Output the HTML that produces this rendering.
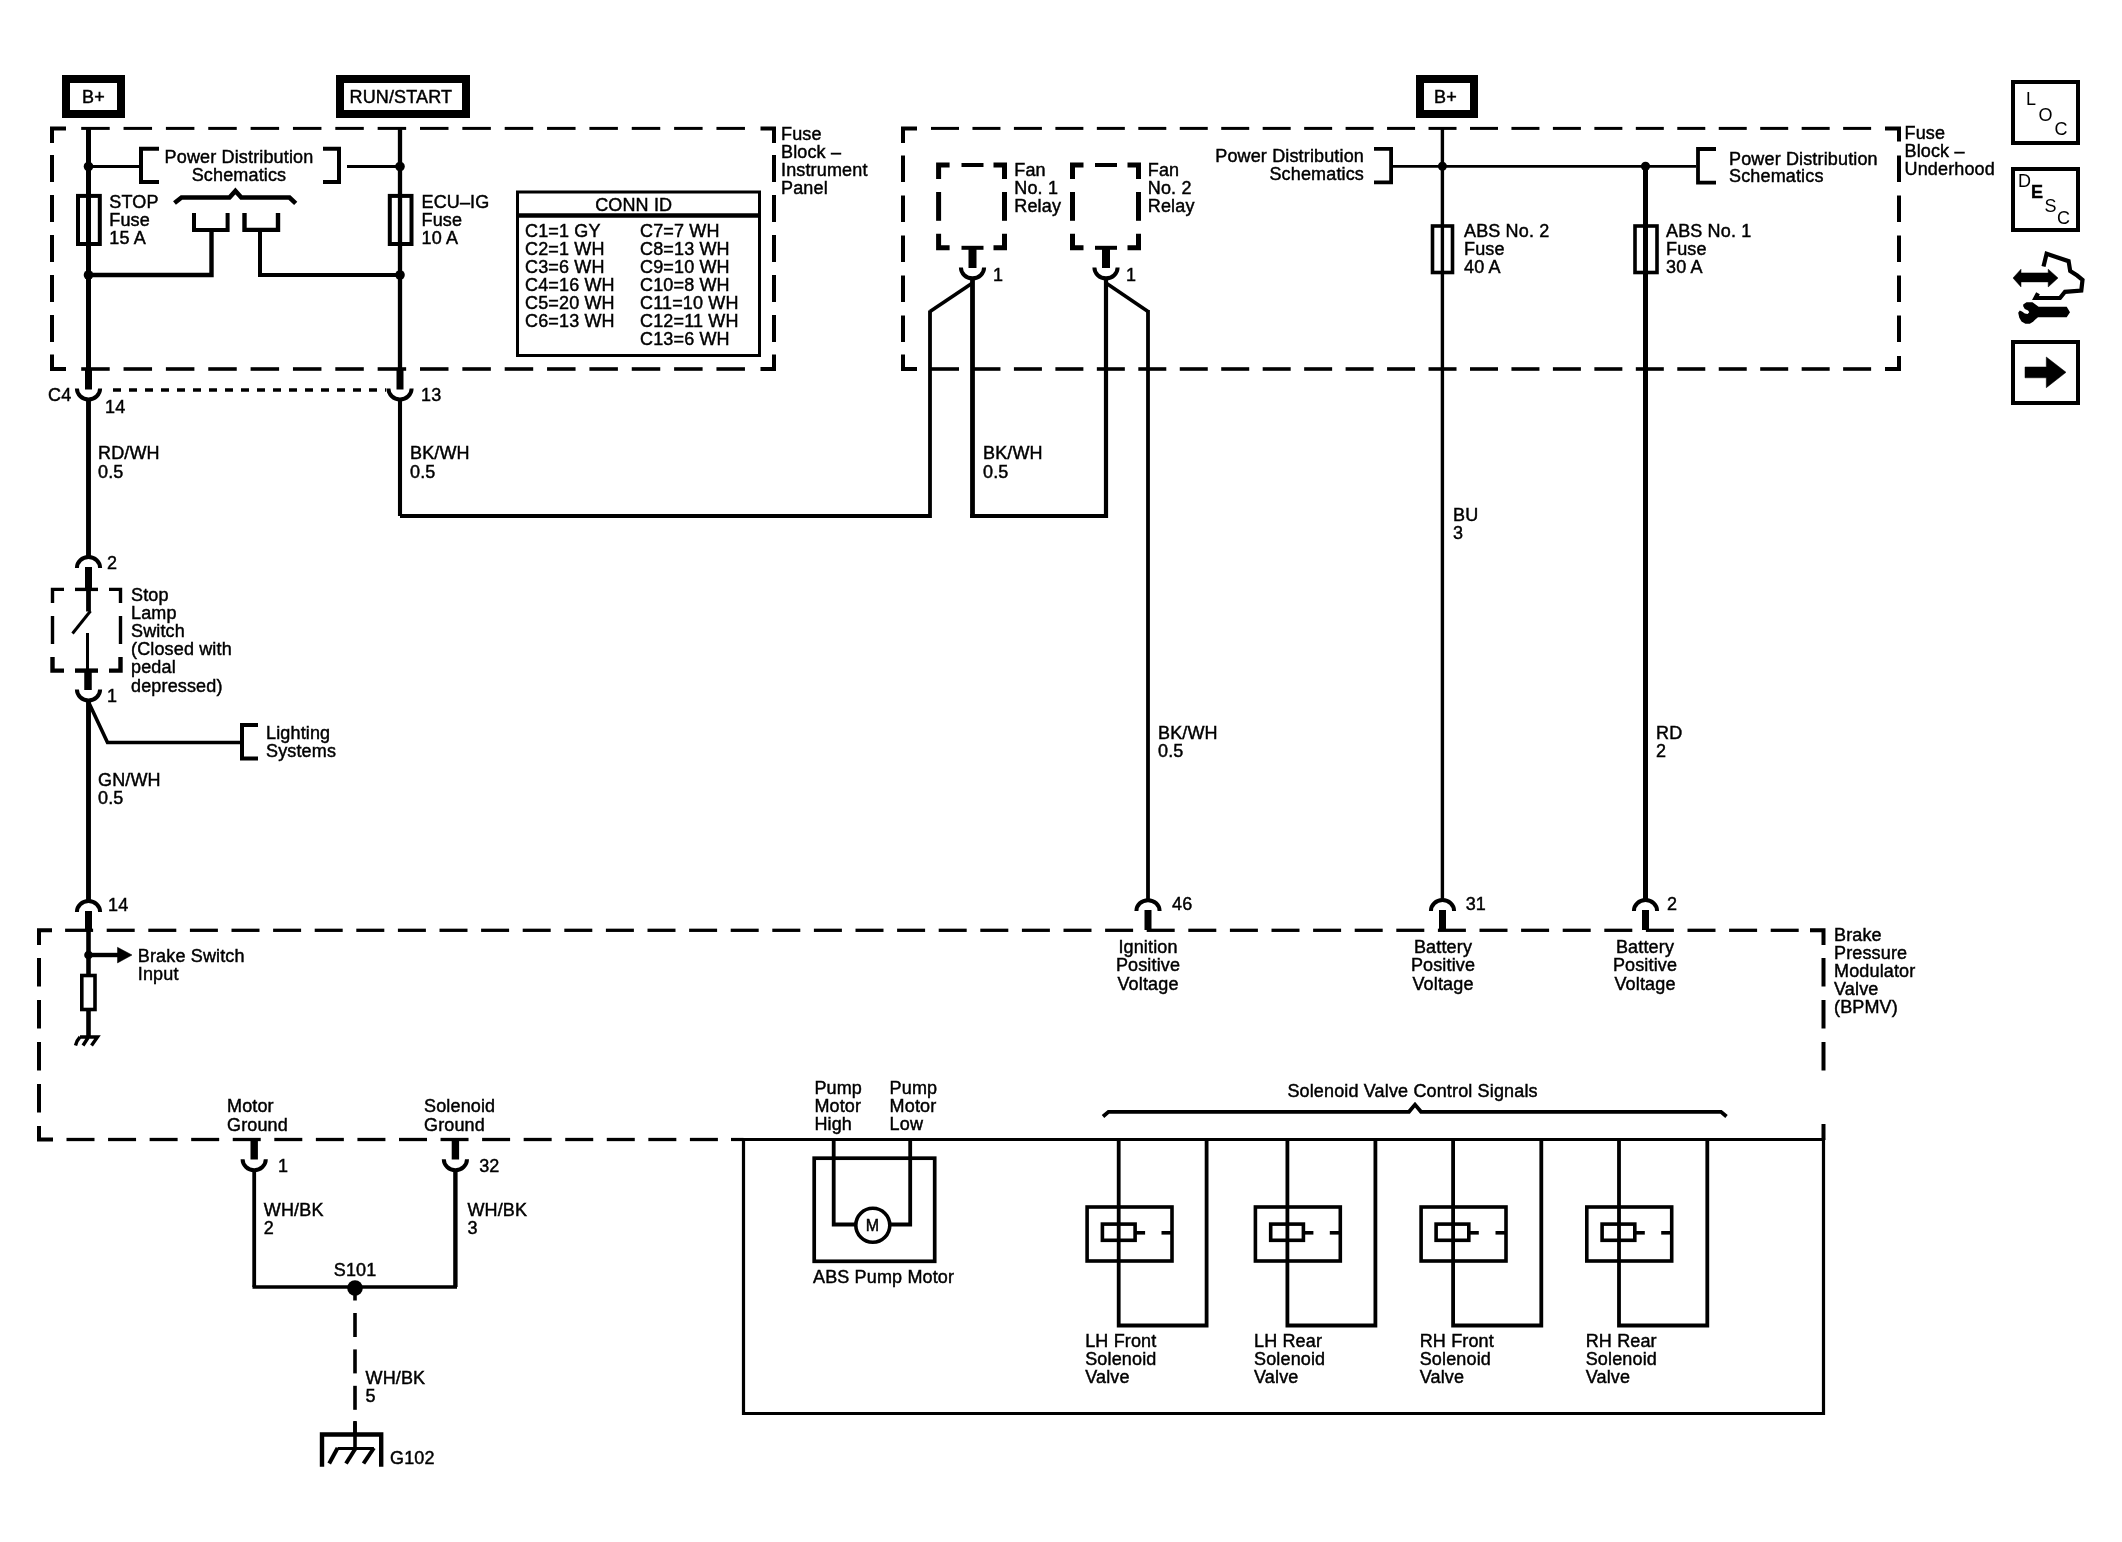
<!DOCTYPE html>
<html><head><meta charset="utf-8"><style>
html,body{margin:0;padding:0;background:#fff;width:2122px;height:1542px;overflow:hidden}
svg{display:block;will-change:transform}
text{font-family:"Liberation Sans",sans-serif}
</style></head><body>
<svg width="2122" height="1542" viewBox="0 0 2122 1542" stroke="#000" fill="#000" font-family="Liberation Sans, sans-serif">
<rect x="0" y="0" width="2122" height="1542" fill="#fff" stroke="none"/>
<g stroke="none">
</g>
<rect x="66" y="79" width="55" height="35" stroke-width="8" fill="none"/>
<rect x="340" y="79" width="126" height="35" stroke-width="8" fill="none"/>
<path d="M52,142.9 V128.4 H66" stroke-width="4" fill="none" stroke-linejoin="miter" stroke-linecap="butt"/>
<path d="M760.5,128.4 H774 V142.9" stroke-width="4" fill="none" stroke-linejoin="miter" stroke-linecap="butt"/>
<line x1="81.2" y1="128.4" x2="109.7" y2="128.4" stroke-width="3.0" stroke-linecap="butt"/>
<line x1="123.55" y1="128.4" x2="152.05" y2="128.4" stroke-width="3.0" stroke-linecap="butt"/>
<line x1="165.9" y1="128.4" x2="194.4" y2="128.4" stroke-width="3.0" stroke-linecap="butt"/>
<line x1="208.25" y1="128.4" x2="236.75" y2="128.4" stroke-width="3.0" stroke-linecap="butt"/>
<line x1="250.6" y1="128.4" x2="279.1" y2="128.4" stroke-width="3.0" stroke-linecap="butt"/>
<line x1="292.95" y1="128.4" x2="321.45" y2="128.4" stroke-width="3.0" stroke-linecap="butt"/>
<line x1="335.3" y1="128.4" x2="363.8" y2="128.4" stroke-width="3.0" stroke-linecap="butt"/>
<line x1="377.65" y1="128.4" x2="406.15" y2="128.4" stroke-width="3.0" stroke-linecap="butt"/>
<line x1="420.0" y1="128.4" x2="448.5" y2="128.4" stroke-width="3.0" stroke-linecap="butt"/>
<line x1="462.35" y1="128.4" x2="490.85" y2="128.4" stroke-width="3.0" stroke-linecap="butt"/>
<line x1="504.7" y1="128.4" x2="533.2" y2="128.4" stroke-width="3.0" stroke-linecap="butt"/>
<line x1="547.05" y1="128.4" x2="575.55" y2="128.4" stroke-width="3.0" stroke-linecap="butt"/>
<line x1="589.4" y1="128.4" x2="617.9" y2="128.4" stroke-width="3.0" stroke-linecap="butt"/>
<line x1="631.75" y1="128.4" x2="660.25" y2="128.4" stroke-width="3.0" stroke-linecap="butt"/>
<line x1="674.1" y1="128.4" x2="702.6" y2="128.4" stroke-width="3.0" stroke-linecap="butt"/>
<line x1="716.45" y1="128.4" x2="744.95" y2="128.4" stroke-width="3.0" stroke-linecap="butt"/>
<path d="M52,354.5 V369 H66" stroke-width="4" fill="none" stroke-linejoin="miter" stroke-linecap="butt"/>
<path d="M760.5,369 H774 V354.5" stroke-width="4" fill="none" stroke-linejoin="miter" stroke-linecap="butt"/>
<line x1="81.2" y1="369" x2="109.7" y2="369" stroke-width="3.6" stroke-linecap="butt"/>
<line x1="123.55" y1="369" x2="152.05" y2="369" stroke-width="3.6" stroke-linecap="butt"/>
<line x1="165.9" y1="369" x2="194.4" y2="369" stroke-width="3.6" stroke-linecap="butt"/>
<line x1="208.25" y1="369" x2="236.75" y2="369" stroke-width="3.6" stroke-linecap="butt"/>
<line x1="250.6" y1="369" x2="279.1" y2="369" stroke-width="3.6" stroke-linecap="butt"/>
<line x1="292.95" y1="369" x2="321.45" y2="369" stroke-width="3.6" stroke-linecap="butt"/>
<line x1="335.3" y1="369" x2="363.8" y2="369" stroke-width="3.6" stroke-linecap="butt"/>
<line x1="377.65" y1="369" x2="406.15" y2="369" stroke-width="3.6" stroke-linecap="butt"/>
<line x1="420.0" y1="369" x2="448.5" y2="369" stroke-width="3.6" stroke-linecap="butt"/>
<line x1="462.35" y1="369" x2="490.85" y2="369" stroke-width="3.6" stroke-linecap="butt"/>
<line x1="504.7" y1="369" x2="533.2" y2="369" stroke-width="3.6" stroke-linecap="butt"/>
<line x1="547.05" y1="369" x2="575.55" y2="369" stroke-width="3.6" stroke-linecap="butt"/>
<line x1="589.4" y1="369" x2="617.9" y2="369" stroke-width="3.6" stroke-linecap="butt"/>
<line x1="631.75" y1="369" x2="660.25" y2="369" stroke-width="3.6" stroke-linecap="butt"/>
<line x1="674.1" y1="369" x2="702.6" y2="369" stroke-width="3.6" stroke-linecap="butt"/>
<line x1="716.45" y1="369" x2="744.95" y2="369" stroke-width="3.6" stroke-linecap="butt"/>
<line x1="52" y1="155" x2="52" y2="182" stroke-width="4" stroke-linecap="butt"/>
<line x1="52" y1="195" x2="52" y2="222" stroke-width="4" stroke-linecap="butt"/>
<line x1="52" y1="235" x2="52" y2="262" stroke-width="4" stroke-linecap="butt"/>
<line x1="52" y1="275" x2="52" y2="302" stroke-width="4" stroke-linecap="butt"/>
<line x1="52" y1="315" x2="52" y2="342" stroke-width="4" stroke-linecap="butt"/>
<line x1="774" y1="155" x2="774" y2="182" stroke-width="4" stroke-linecap="butt"/>
<line x1="774" y1="195" x2="774" y2="222" stroke-width="4" stroke-linecap="butt"/>
<line x1="774" y1="235" x2="774" y2="262" stroke-width="4" stroke-linecap="butt"/>
<line x1="774" y1="275" x2="774" y2="302" stroke-width="4" stroke-linecap="butt"/>
<line x1="774" y1="315" x2="774" y2="342" stroke-width="4" stroke-linecap="butt"/>
<line x1="88.5" y1="128" x2="88.5" y2="370" stroke-width="5" stroke-linecap="butt"/>
<line x1="400" y1="128" x2="400" y2="370" stroke-width="4.3" stroke-linecap="butt"/>
<circle cx="88.5" cy="166.5" r="4.8" stroke="none" fill="#000"/>
<circle cx="400" cy="166.5" r="4.8" stroke="none" fill="#000"/>
<circle cx="88.5" cy="275" r="4.8" stroke="none" fill="#000"/>
<circle cx="400" cy="275" r="4.8" stroke="none" fill="#000"/>
<line x1="88.5" y1="166.5" x2="141" y2="166.5" stroke-width="3.2" stroke-linecap="butt"/>
<path d="M159,148.8 H141 V182 H159" stroke-width="4" fill="none" stroke-linejoin="miter" stroke-linecap="butt"/>
<path d="M323,148.8 H339 V182 H323" stroke-width="4" fill="none" stroke-linejoin="miter" stroke-linecap="butt"/>
<line x1="347" y1="166.5" x2="400" y2="166.5" stroke-width="3.2" stroke-linecap="butt"/>
<rect x="78" y="195.9" width="21.799999999999997" height="48.099999999999994" stroke-width="4" fill="none"/>
<rect x="389.8" y="195.9" width="21.69999999999999" height="48.099999999999994" stroke-width="4" fill="none"/>
<path d="M174.5,203 L181.5,197.5 H229.5 L235.4,191 L241.3,197.5 H289.5 L295.7,203.4" stroke-width="4.6" fill="none" stroke-linejoin="miter" stroke-linecap="butt"/>
<path d="M194,213 V229.9 H227.6 V213" stroke-width="4" fill="none" stroke-linejoin="miter" stroke-linecap="butt"/>
<path d="M244.5,213 V229.9 H278 V213" stroke-width="4.4" fill="none" stroke-linejoin="miter" stroke-linecap="butt"/>
<path d="M211.5,229 V275 H88.5" stroke-width="4.4" fill="none" stroke-linejoin="miter" stroke-linecap="butt"/>
<path d="M260,229 V275 H400" stroke-width="4" fill="none" stroke-linejoin="miter" stroke-linecap="butt"/>
<rect x="517.5" y="192" width="242.0" height="163.5" stroke-width="3" fill="none"/>
<line x1="517.5" y1="215.5" x2="759.5" y2="215.5" stroke-width="4.4" stroke-linecap="butt"/>
<line x1="88.5" y1="369" x2="88.5" y2="389.5" stroke-width="7" stroke-linecap="butt"/>
<path d="M76.9,388.5 A11.6,10.9 0 0 0 100.1,388.5" stroke-width="4" fill="none" stroke-linejoin="miter" stroke-linecap="butt"/>
<line x1="400" y1="369" x2="400" y2="389.5" stroke-width="7" stroke-linecap="butt"/>
<path d="M388.4,388.5 A11.6,10.9 0 0 0 411.6,388.5" stroke-width="4" fill="none" stroke-linejoin="miter" stroke-linecap="butt"/>
<line x1="113" y1="390" x2="386" y2="390" stroke-width="3.5" stroke-dasharray="8 8"/>
<line x1="88.5" y1="399" x2="88.5" y2="557" stroke-width="4.9" stroke-linecap="butt"/>
<line x1="400" y1="399" x2="400" y2="516" stroke-width="4.1" stroke-linecap="butt"/>
<path d="M400,516 H930 V310.5" stroke-width="3.8" fill="none" stroke-linejoin="miter" stroke-linecap="butt"/>
<line x1="930" y1="311.5" x2="972.5" y2="283" stroke-width="3.6" stroke-linecap="butt"/>
<line x1="972.5" y1="279" x2="972.5" y2="518" stroke-width="4.8" stroke-linecap="butt"/>
<line x1="970.1" y1="516" x2="1108" y2="516" stroke-width="3.8" stroke-linecap="butt"/>
<line x1="1106" y1="279" x2="1106" y2="518" stroke-width="4.2" stroke-linecap="butt"/>
<line x1="1106" y1="283" x2="1148" y2="311.5" stroke-width="3.6" stroke-linecap="butt"/>
<line x1="1148" y1="310" x2="1148" y2="900" stroke-width="3.8" stroke-linecap="butt"/>
<path d="M903,142.9 V128.4 H917" stroke-width="4" fill="none" stroke-linejoin="miter" stroke-linecap="butt"/>
<path d="M1885,128.4 H1899 V141.4" stroke-width="4" fill="none" stroke-linejoin="miter" stroke-linecap="butt"/>
<line x1="931" y1="128.4" x2="959" y2="128.4" stroke-width="3.0" stroke-linecap="butt"/>
<line x1="972.46" y1="128.4" x2="1000.46" y2="128.4" stroke-width="3.0" stroke-linecap="butt"/>
<line x1="1013.92" y1="128.4" x2="1041.92" y2="128.4" stroke-width="3.0" stroke-linecap="butt"/>
<line x1="1055.38" y1="128.4" x2="1083.38" y2="128.4" stroke-width="3.0" stroke-linecap="butt"/>
<line x1="1096.84" y1="128.4" x2="1124.84" y2="128.4" stroke-width="3.0" stroke-linecap="butt"/>
<line x1="1138.3" y1="128.4" x2="1166.3" y2="128.4" stroke-width="3.0" stroke-linecap="butt"/>
<line x1="1179.76" y1="128.4" x2="1207.76" y2="128.4" stroke-width="3.0" stroke-linecap="butt"/>
<line x1="1221.22" y1="128.4" x2="1249.22" y2="128.4" stroke-width="3.0" stroke-linecap="butt"/>
<line x1="1262.68" y1="128.4" x2="1290.68" y2="128.4" stroke-width="3.0" stroke-linecap="butt"/>
<line x1="1304.14" y1="128.4" x2="1332.14" y2="128.4" stroke-width="3.0" stroke-linecap="butt"/>
<line x1="1345.6" y1="128.4" x2="1373.6" y2="128.4" stroke-width="3.0" stroke-linecap="butt"/>
<line x1="1387.06" y1="128.4" x2="1415.06" y2="128.4" stroke-width="3.0" stroke-linecap="butt"/>
<line x1="1428.52" y1="128.4" x2="1456.52" y2="128.4" stroke-width="3.0" stroke-linecap="butt"/>
<line x1="1469.98" y1="128.4" x2="1497.98" y2="128.4" stroke-width="3.0" stroke-linecap="butt"/>
<line x1="1511.44" y1="128.4" x2="1539.44" y2="128.4" stroke-width="3.0" stroke-linecap="butt"/>
<line x1="1552.9" y1="128.4" x2="1580.9" y2="128.4" stroke-width="3.0" stroke-linecap="butt"/>
<line x1="1594.36" y1="128.4" x2="1622.36" y2="128.4" stroke-width="3.0" stroke-linecap="butt"/>
<line x1="1635.82" y1="128.4" x2="1663.82" y2="128.4" stroke-width="3.0" stroke-linecap="butt"/>
<line x1="1677.28" y1="128.4" x2="1705.28" y2="128.4" stroke-width="3.0" stroke-linecap="butt"/>
<line x1="1718.74" y1="128.4" x2="1746.74" y2="128.4" stroke-width="3.0" stroke-linecap="butt"/>
<line x1="1760.2" y1="128.4" x2="1788.2" y2="128.4" stroke-width="3.0" stroke-linecap="butt"/>
<line x1="1801.66" y1="128.4" x2="1829.66" y2="128.4" stroke-width="3.0" stroke-linecap="butt"/>
<line x1="1843.12" y1="128.4" x2="1871.12" y2="128.4" stroke-width="3.0" stroke-linecap="butt"/>
<path d="M903,354.5 V369 H917" stroke-width="4" fill="none" stroke-linejoin="miter" stroke-linecap="butt"/>
<path d="M1885,369 H1899 V356" stroke-width="4" fill="none" stroke-linejoin="miter" stroke-linecap="butt"/>
<line x1="931" y1="369" x2="959" y2="369" stroke-width="3.6" stroke-linecap="butt"/>
<line x1="972.46" y1="369" x2="1000.46" y2="369" stroke-width="3.6" stroke-linecap="butt"/>
<line x1="1013.92" y1="369" x2="1041.92" y2="369" stroke-width="3.6" stroke-linecap="butt"/>
<line x1="1055.38" y1="369" x2="1083.38" y2="369" stroke-width="3.6" stroke-linecap="butt"/>
<line x1="1096.84" y1="369" x2="1124.84" y2="369" stroke-width="3.6" stroke-linecap="butt"/>
<line x1="1138.3" y1="369" x2="1166.3" y2="369" stroke-width="3.6" stroke-linecap="butt"/>
<line x1="1179.76" y1="369" x2="1207.76" y2="369" stroke-width="3.6" stroke-linecap="butt"/>
<line x1="1221.22" y1="369" x2="1249.22" y2="369" stroke-width="3.6" stroke-linecap="butt"/>
<line x1="1262.68" y1="369" x2="1290.68" y2="369" stroke-width="3.6" stroke-linecap="butt"/>
<line x1="1304.14" y1="369" x2="1332.14" y2="369" stroke-width="3.6" stroke-linecap="butt"/>
<line x1="1345.6" y1="369" x2="1373.6" y2="369" stroke-width="3.6" stroke-linecap="butt"/>
<line x1="1387.06" y1="369" x2="1415.06" y2="369" stroke-width="3.6" stroke-linecap="butt"/>
<line x1="1428.52" y1="369" x2="1456.52" y2="369" stroke-width="3.6" stroke-linecap="butt"/>
<line x1="1469.98" y1="369" x2="1497.98" y2="369" stroke-width="3.6" stroke-linecap="butt"/>
<line x1="1511.44" y1="369" x2="1539.44" y2="369" stroke-width="3.6" stroke-linecap="butt"/>
<line x1="1552.9" y1="369" x2="1580.9" y2="369" stroke-width="3.6" stroke-linecap="butt"/>
<line x1="1594.36" y1="369" x2="1622.36" y2="369" stroke-width="3.6" stroke-linecap="butt"/>
<line x1="1635.82" y1="369" x2="1663.82" y2="369" stroke-width="3.6" stroke-linecap="butt"/>
<line x1="1677.28" y1="369" x2="1705.28" y2="369" stroke-width="3.6" stroke-linecap="butt"/>
<line x1="1718.74" y1="369" x2="1746.74" y2="369" stroke-width="3.6" stroke-linecap="butt"/>
<line x1="1760.2" y1="369" x2="1788.2" y2="369" stroke-width="3.6" stroke-linecap="butt"/>
<line x1="1801.66" y1="369" x2="1829.66" y2="369" stroke-width="3.6" stroke-linecap="butt"/>
<line x1="1843.12" y1="369" x2="1871.12" y2="369" stroke-width="3.6" stroke-linecap="butt"/>
<line x1="903" y1="155.5" x2="903" y2="182.0" stroke-width="4" stroke-linecap="butt"/>
<line x1="903" y1="195.5" x2="903" y2="222.0" stroke-width="4" stroke-linecap="butt"/>
<line x1="903" y1="235.5" x2="903" y2="262.0" stroke-width="4" stroke-linecap="butt"/>
<line x1="903" y1="275.5" x2="903" y2="302.0" stroke-width="4" stroke-linecap="butt"/>
<line x1="903" y1="315.5" x2="903" y2="342.0" stroke-width="4" stroke-linecap="butt"/>
<line x1="1899" y1="155.5" x2="1899" y2="182.0" stroke-width="4" stroke-linecap="butt"/>
<line x1="1899" y1="195.5" x2="1899" y2="222.0" stroke-width="4" stroke-linecap="butt"/>
<line x1="1899" y1="235.5" x2="1899" y2="262.0" stroke-width="4" stroke-linecap="butt"/>
<line x1="1899" y1="275.5" x2="1899" y2="302.0" stroke-width="4" stroke-linecap="butt"/>
<line x1="1899" y1="315.5" x2="1899" y2="342.0" stroke-width="4" stroke-linecap="butt"/>
<path d="M938.6,179 V165 H949.6" stroke-width="5" fill="none" stroke-linejoin="miter" stroke-linecap="butt"/>
<path d="M993.5,165 H1004.5 V179" stroke-width="5" fill="none" stroke-linejoin="miter" stroke-linecap="butt"/>
<path d="M938.6,233.8 V247.8 H949.6" stroke-width="5" fill="none" stroke-linejoin="miter" stroke-linecap="butt"/>
<path d="M993.5,247.8 H1004.5 V233.8" stroke-width="5" fill="none" stroke-linejoin="miter" stroke-linecap="butt"/>
<line x1="961.5" y1="165" x2="983.5" y2="165" stroke-width="4" stroke-linecap="butt"/>
<line x1="961.5" y1="247.8" x2="983.5" y2="247.8" stroke-width="4" stroke-linecap="butt"/>
<line x1="938.6" y1="192" x2="938.6" y2="220.8" stroke-width="5" stroke-linecap="butt"/>
<line x1="1004.5" y1="192" x2="1004.5" y2="220.8" stroke-width="5" stroke-linecap="butt"/>
<line x1="972.5" y1="247.8" x2="972.5" y2="268" stroke-width="8" stroke-linecap="butt"/>
<path d="M960.9,267.5 A11.6,10.9 0 0 0 984.1,267.5" stroke-width="4" fill="none" stroke-linejoin="miter" stroke-linecap="butt"/>
<path d="M1072.5,179 V165 H1083.5" stroke-width="5" fill="none" stroke-linejoin="miter" stroke-linecap="butt"/>
<path d="M1127.5,165 H1138.5 V179" stroke-width="5" fill="none" stroke-linejoin="miter" stroke-linecap="butt"/>
<path d="M1072.5,233.8 V247.8 H1083.5" stroke-width="5" fill="none" stroke-linejoin="miter" stroke-linecap="butt"/>
<path d="M1127.5,247.8 H1138.5 V233.8" stroke-width="5" fill="none" stroke-linejoin="miter" stroke-linecap="butt"/>
<line x1="1095" y1="165" x2="1117" y2="165" stroke-width="4" stroke-linecap="butt"/>
<line x1="1095" y1="247.8" x2="1117" y2="247.8" stroke-width="4" stroke-linecap="butt"/>
<line x1="1072.5" y1="192" x2="1072.5" y2="220.8" stroke-width="5" stroke-linecap="butt"/>
<line x1="1138.5" y1="192" x2="1138.5" y2="220.8" stroke-width="5" stroke-linecap="butt"/>
<line x1="1106" y1="247.8" x2="1106" y2="268" stroke-width="8" stroke-linecap="butt"/>
<path d="M1094.4,267.5 A11.6,10.9 0 0 0 1117.6,267.5" stroke-width="4" fill="none" stroke-linejoin="miter" stroke-linecap="butt"/>
<rect x="1420" y="79" width="54" height="35" stroke-width="8" fill="none"/>
<line x1="1442.4" y1="128" x2="1442.4" y2="900" stroke-width="3.4" stroke-linecap="butt"/>
<line x1="1392" y1="166.4" x2="1696" y2="166.4" stroke-width="2.9" stroke-linecap="butt"/>
<circle cx="1442.4" cy="166.3" r="4.5" stroke="none" fill="#000"/>
<circle cx="1645.5" cy="166.3" r="4.6" stroke="none" fill="#000"/>
<line x1="1645.5" y1="166" x2="1645.5" y2="900" stroke-width="5" stroke-linecap="butt"/>
<path d="M1374,148.9 H1391.1 V182.4 H1374" stroke-width="3.8" fill="none" stroke-linejoin="miter" stroke-linecap="butt"/>
<path d="M1716,149 H1698 V182.6 H1716" stroke-width="3.8" fill="none" stroke-linejoin="miter" stroke-linecap="butt"/>
<rect x="1432.5" y="226" width="20.0" height="46.5" stroke-width="3.6" fill="none"/>
<rect x="1635" y="226" width="22" height="46.5" stroke-width="3.6" fill="none"/>
<rect x="2013" y="82" width="65" height="61" stroke-width="4" fill="none"/>
<rect x="2013" y="169" width="65" height="61" stroke-width="4" fill="none"/>
<rect x="2013" y="342" width="65" height="61" stroke-width="4" fill="none"/>
<path d="M2025,367 H2046.3 V357 L2066,372.3 L2046.3,387.7 V377.8 H2025 Z" stroke-width="0.5" fill="#000" stroke-linejoin="miter" stroke-linecap="butt"/>
<path d="M2013,278 L2021,269.2 V272.9 H2048.2 V269.2 L2058,278 L2048.2,286.9 V281.9 H2021 V286.9 Z" stroke-width="0.5" fill="#000" stroke-linejoin="miter" stroke-linecap="butt"/>
<path d="M2043.5,266.5 L2046.6,253.8 L2068.6,261.2 L2070.2,271 L2077.2,275.5 L2082.5,279.8 L2081.3,290.5 L2065,291.8 L2060,298 L2035.5,298 L2038,293.2" stroke-width="4.2" fill="none" stroke-linejoin="miter" stroke-linecap="butt"/>
<path stroke="none" fill="#000" d="M2023.2,304.5 L2026.5,302.3 L2032.5,302.3 L2038.6,306.7 L2066.7,306.7 L2070,312.2 L2066.7,317.2 L2038,317.2 L2035.3,319.4 L2033.1,321.8 L2029.8,323.8 L2025.4,323.8 L2021.5,321.6 L2019.3,317.7 L2018.2,312.8 L2019.8,310.6 L2022,311.4 L2024.8,313.6 L2027.6,314.1 L2029.2,312.2 L2028.1,310.6 L2024.8,308.9 L2023.2,306.2 Z"/>
<line x1="88.5" y1="567" x2="88.5" y2="589" stroke-width="7" stroke-linecap="butt"/>
<path d="M76.9,568 A11.6,10.9 0 0 1 100.1,568" stroke-width="4" fill="none" stroke-linejoin="miter" stroke-linecap="butt"/>
<line x1="88.5" y1="589" x2="88.5" y2="611.5" stroke-width="4.8" stroke-linecap="butt"/>
<path d="M90.5,611 L72.5,633.5" stroke-width="3" fill="none" stroke-linejoin="miter" stroke-linecap="butt"/>
<line x1="87.5" y1="633" x2="87.5" y2="671" stroke-width="3" stroke-linecap="butt"/>
<line x1="88" y1="671" x2="88" y2="690" stroke-width="7.5" stroke-linecap="butt"/>
<path d="M76.9,689.5 A11.6,10.9 0 0 0 100.1,689.5" stroke-width="4" fill="none" stroke-linejoin="miter" stroke-linecap="butt"/>
<line x1="88.5" y1="701" x2="88.5" y2="900" stroke-width="4.9" stroke-linecap="butt"/>
<path d="M88.5,702 L107.5,742.5 H241" stroke-width="3.6" fill="none" stroke-linejoin="miter" stroke-linecap="butt"/>
<path d="M258,725 H242 V758.5 H258" stroke-width="4" fill="none" stroke-linejoin="miter" stroke-linecap="butt"/>
<path d="M52.5,603 V589.4 H64" stroke-width="3.4" fill="none" stroke-linejoin="miter" stroke-linecap="butt"/>
<path d="M109,589.4 H120.5 V603" stroke-width="3.4" fill="none" stroke-linejoin="miter" stroke-linecap="butt"/>
<line x1="75" y1="589.4" x2="98" y2="589.4" stroke-width="3.4" stroke-linecap="butt"/>
<line x1="52.5" y1="616" x2="52.5" y2="644" stroke-width="3.4" stroke-linecap="butt"/>
<line x1="120.5" y1="616" x2="120.5" y2="644" stroke-width="3.4" stroke-linecap="butt"/>
<path d="M52.5,657 V670.6 H64" stroke-width="4.4" fill="none" stroke-linejoin="miter" stroke-linecap="butt"/>
<path d="M109,670.6 H120.5 V657" stroke-width="4.4" fill="none" stroke-linejoin="miter" stroke-linecap="butt"/>
<line x1="75" y1="670.6" x2="98" y2="670.6" stroke-width="4.4" stroke-linecap="butt"/>
<line x1="88.5" y1="911" x2="88.5" y2="931" stroke-width="7" stroke-linecap="butt"/>
<path d="M76.9,912 A11.6,10.9 0 0 1 100.1,912" stroke-width="4" fill="none" stroke-linejoin="miter" stroke-linecap="butt"/>
<path d="M39,945 V930.3 H52" stroke-width="4" fill="none" stroke-linejoin="miter" stroke-linecap="butt"/>
<line x1="65.1" y1="930.3" x2="93.1" y2="930.3" stroke-width="3.3" stroke-linecap="butt"/>
<line x1="106.7" y1="930.3" x2="134.7" y2="930.3" stroke-width="3.3" stroke-linecap="butt"/>
<line x1="148.3" y1="930.3" x2="176.3" y2="930.3" stroke-width="3.3" stroke-linecap="butt"/>
<line x1="189.9" y1="930.3" x2="217.9" y2="930.3" stroke-width="3.3" stroke-linecap="butt"/>
<line x1="231.5" y1="930.3" x2="259.5" y2="930.3" stroke-width="3.3" stroke-linecap="butt"/>
<line x1="273.1" y1="930.3" x2="301.1" y2="930.3" stroke-width="3.3" stroke-linecap="butt"/>
<line x1="314.7" y1="930.3" x2="342.7" y2="930.3" stroke-width="3.3" stroke-linecap="butt"/>
<line x1="356.3" y1="930.3" x2="384.3" y2="930.3" stroke-width="3.3" stroke-linecap="butt"/>
<line x1="397.9" y1="930.3" x2="425.9" y2="930.3" stroke-width="3.3" stroke-linecap="butt"/>
<line x1="439.5" y1="930.3" x2="467.5" y2="930.3" stroke-width="3.3" stroke-linecap="butt"/>
<line x1="481.1" y1="930.3" x2="509.1" y2="930.3" stroke-width="3.3" stroke-linecap="butt"/>
<line x1="522.7" y1="930.3" x2="550.7" y2="930.3" stroke-width="3.3" stroke-linecap="butt"/>
<line x1="564.3" y1="930.3" x2="592.3" y2="930.3" stroke-width="3.3" stroke-linecap="butt"/>
<line x1="605.9" y1="930.3" x2="633.9" y2="930.3" stroke-width="3.3" stroke-linecap="butt"/>
<line x1="647.5" y1="930.3" x2="675.5" y2="930.3" stroke-width="3.3" stroke-linecap="butt"/>
<line x1="689.1" y1="930.3" x2="717.1" y2="930.3" stroke-width="3.3" stroke-linecap="butt"/>
<line x1="730.7" y1="930.3" x2="758.7" y2="930.3" stroke-width="3.3" stroke-linecap="butt"/>
<line x1="772.3" y1="930.3" x2="800.3" y2="930.3" stroke-width="3.3" stroke-linecap="butt"/>
<line x1="813.9" y1="930.3" x2="841.9" y2="930.3" stroke-width="3.3" stroke-linecap="butt"/>
<line x1="855.5" y1="930.3" x2="883.5" y2="930.3" stroke-width="3.3" stroke-linecap="butt"/>
<line x1="897.1" y1="930.3" x2="925.1" y2="930.3" stroke-width="3.3" stroke-linecap="butt"/>
<line x1="938.7" y1="930.3" x2="966.7" y2="930.3" stroke-width="3.3" stroke-linecap="butt"/>
<line x1="980.3" y1="930.3" x2="1008.3" y2="930.3" stroke-width="3.3" stroke-linecap="butt"/>
<line x1="1021.9" y1="930.3" x2="1049.9" y2="930.3" stroke-width="3.3" stroke-linecap="butt"/>
<line x1="1063.5" y1="930.3" x2="1091.5" y2="930.3" stroke-width="3.3" stroke-linecap="butt"/>
<line x1="1105.1" y1="930.3" x2="1133.1" y2="930.3" stroke-width="3.3" stroke-linecap="butt"/>
<line x1="1146.7" y1="930.3" x2="1174.7" y2="930.3" stroke-width="3.3" stroke-linecap="butt"/>
<line x1="1188.3" y1="930.3" x2="1216.3" y2="930.3" stroke-width="3.3" stroke-linecap="butt"/>
<line x1="1229.9" y1="930.3" x2="1257.9" y2="930.3" stroke-width="3.3" stroke-linecap="butt"/>
<line x1="1271.5" y1="930.3" x2="1299.5" y2="930.3" stroke-width="3.3" stroke-linecap="butt"/>
<line x1="1313.1" y1="930.3" x2="1341.1" y2="930.3" stroke-width="3.3" stroke-linecap="butt"/>
<line x1="1354.7" y1="930.3" x2="1382.7" y2="930.3" stroke-width="3.3" stroke-linecap="butt"/>
<line x1="1396.3" y1="930.3" x2="1424.3" y2="930.3" stroke-width="3.3" stroke-linecap="butt"/>
<line x1="1437.9" y1="930.3" x2="1465.9" y2="930.3" stroke-width="3.3" stroke-linecap="butt"/>
<line x1="1479.5" y1="930.3" x2="1507.5" y2="930.3" stroke-width="3.3" stroke-linecap="butt"/>
<line x1="1521.1" y1="930.3" x2="1549.1" y2="930.3" stroke-width="3.3" stroke-linecap="butt"/>
<line x1="1562.7" y1="930.3" x2="1590.7" y2="930.3" stroke-width="3.3" stroke-linecap="butt"/>
<line x1="1604.3" y1="930.3" x2="1632.3" y2="930.3" stroke-width="3.3" stroke-linecap="butt"/>
<line x1="1645.9" y1="930.3" x2="1673.9" y2="930.3" stroke-width="3.3" stroke-linecap="butt"/>
<line x1="1687.5" y1="930.3" x2="1715.5" y2="930.3" stroke-width="3.3" stroke-linecap="butt"/>
<line x1="1729.1" y1="930.3" x2="1757.1" y2="930.3" stroke-width="3.3" stroke-linecap="butt"/>
<line x1="1770.7" y1="930.3" x2="1798.7" y2="930.3" stroke-width="3.3" stroke-linecap="butt"/>
<path d="M1810,930.3 H1823.5 V945" stroke-width="4" fill="none" stroke-linejoin="miter" stroke-linecap="butt"/>
<line x1="39" y1="958" x2="39" y2="986.5" stroke-width="4" stroke-linecap="butt"/>
<line x1="39" y1="1000" x2="39" y2="1028.5" stroke-width="4" stroke-linecap="butt"/>
<line x1="39" y1="1042" x2="39" y2="1070.5" stroke-width="4" stroke-linecap="butt"/>
<line x1="39" y1="1084" x2="39" y2="1112.5" stroke-width="4" stroke-linecap="butt"/>
<path d="M39,1126 V1139.5 H53" stroke-width="4" fill="none" stroke-linejoin="miter" stroke-linecap="butt"/>
<line x1="66.5" y1="1139.5" x2="94.5" y2="1139.5" stroke-width="3.3" stroke-linecap="butt"/>
<line x1="108.06" y1="1139.5" x2="136.06" y2="1139.5" stroke-width="3.3" stroke-linecap="butt"/>
<line x1="149.62" y1="1139.5" x2="177.62" y2="1139.5" stroke-width="3.3" stroke-linecap="butt"/>
<line x1="191.18" y1="1139.5" x2="219.18" y2="1139.5" stroke-width="3.3" stroke-linecap="butt"/>
<line x1="232.74" y1="1139.5" x2="260.74" y2="1139.5" stroke-width="3.3" stroke-linecap="butt"/>
<line x1="274.3" y1="1139.5" x2="302.3" y2="1139.5" stroke-width="3.3" stroke-linecap="butt"/>
<line x1="315.86" y1="1139.5" x2="343.86" y2="1139.5" stroke-width="3.3" stroke-linecap="butt"/>
<line x1="357.42" y1="1139.5" x2="385.42" y2="1139.5" stroke-width="3.3" stroke-linecap="butt"/>
<line x1="398.98" y1="1139.5" x2="426.98" y2="1139.5" stroke-width="3.3" stroke-linecap="butt"/>
<line x1="440.54" y1="1139.5" x2="468.54" y2="1139.5" stroke-width="3.3" stroke-linecap="butt"/>
<line x1="482.1" y1="1139.5" x2="510.1" y2="1139.5" stroke-width="3.3" stroke-linecap="butt"/>
<line x1="523.66" y1="1139.5" x2="551.66" y2="1139.5" stroke-width="3.3" stroke-linecap="butt"/>
<line x1="565.22" y1="1139.5" x2="593.22" y2="1139.5" stroke-width="3.3" stroke-linecap="butt"/>
<line x1="606.78" y1="1139.5" x2="634.78" y2="1139.5" stroke-width="3.3" stroke-linecap="butt"/>
<line x1="648.34" y1="1139.5" x2="676.34" y2="1139.5" stroke-width="3.3" stroke-linecap="butt"/>
<line x1="689.9" y1="1139.5" x2="717.9" y2="1139.5" stroke-width="3.3" stroke-linecap="butt"/>
<line x1="1823.5" y1="958" x2="1823.5" y2="986.5" stroke-width="4" stroke-linecap="butt"/>
<line x1="1823.5" y1="1000" x2="1823.5" y2="1028.5" stroke-width="4" stroke-linecap="butt"/>
<line x1="1823.5" y1="1042" x2="1823.5" y2="1070.5" stroke-width="4" stroke-linecap="butt"/>
<path d="M743.5,1139.5 H1823.5 V1413.5 H743.5 Z" stroke-width="3.2" fill="none" stroke-linejoin="miter" stroke-linecap="butt"/>
<line x1="731" y1="1139.5" x2="743.5" y2="1139.5" stroke-width="3.2" stroke-linecap="butt"/>
<line x1="1823.5" y1="1124" x2="1823.5" y2="1140" stroke-width="4" stroke-linecap="butt"/>
<line x1="1148" y1="910" x2="1148" y2="930" stroke-width="7" stroke-linecap="butt"/>
<path d="M1136.4,911 A11.6,10.9 0 0 1 1159.6,911" stroke-width="4" fill="none" stroke-linejoin="miter" stroke-linecap="butt"/>
<line x1="1442.5" y1="910" x2="1442.5" y2="930" stroke-width="7" stroke-linecap="butt"/>
<path d="M1430.9,911 A11.6,10.9 0 0 1 1454.1,911" stroke-width="4" fill="none" stroke-linejoin="miter" stroke-linecap="butt"/>
<line x1="1645.5" y1="910" x2="1645.5" y2="930" stroke-width="7" stroke-linecap="butt"/>
<path d="M1633.9,911 A11.6,10.9 0 0 1 1657.1,911" stroke-width="4" fill="none" stroke-linejoin="miter" stroke-linecap="butt"/>
<line x1="88.5" y1="930" x2="88.5" y2="975" stroke-width="4.6" stroke-linecap="butt"/>
<circle cx="88.5" cy="955" r="4.3" stroke="none" fill="#000"/>
<line x1="88.5" y1="955" x2="118" y2="955" stroke-width="4.4" stroke-linecap="butt"/>
<path d="M117.5,947.3 L132,955 L117.5,962.9 Z" stroke-width="0.5" fill="#000" stroke-linejoin="miter" stroke-linecap="butt"/>
<rect x="81.8" y="975.5" width="13.200000000000003" height="34.0" stroke-width="3.6" fill="none"/>
<line x1="88.5" y1="1009.5" x2="88.5" y2="1037" stroke-width="4.6" stroke-linecap="butt"/>
<path d="M80,1037 H97.5 L91.5,1045.5 M80,1037 Q77,1040 75.5,1045.5 M88.5,1037 L83,1045.5" stroke-width="3.4" fill="none" stroke-linejoin="miter" stroke-linecap="butt"/>
<line x1="254.2" y1="1139.5" x2="254.2" y2="1159.5" stroke-width="7.4" stroke-linecap="butt"/>
<path d="M242.6,1159.3 A11.6,10.9 0 0 0 265.8,1159.3" stroke-width="4" fill="none" stroke-linejoin="miter" stroke-linecap="butt"/>
<line x1="455.4" y1="1139.5" x2="455.4" y2="1159.5" stroke-width="7.4" stroke-linecap="butt"/>
<path d="M443.79999999999995,1159.3 A11.6,10.9 0 0 0 467.0,1159.3" stroke-width="4" fill="none" stroke-linejoin="miter" stroke-linecap="butt"/>
<line x1="254.2" y1="1170" x2="254.2" y2="1287" stroke-width="3.8" stroke-linecap="butt"/>
<line x1="455.4" y1="1170" x2="455.4" y2="1287" stroke-width="4.4" stroke-linecap="butt"/>
<line x1="252.5" y1="1287" x2="457" y2="1287" stroke-width="3.3" stroke-linecap="butt"/>
<circle cx="355" cy="1288" r="7.8" stroke="none" fill="#000"/>
<line x1="355" y1="1288" x2="355" y2="1300.5" stroke-width="3.6" stroke-linecap="butt"/>
<line x1="355" y1="1313" x2="355" y2="1337" stroke-width="3.6" stroke-linecap="butt"/>
<line x1="355" y1="1349.4" x2="355" y2="1373.4" stroke-width="3.6" stroke-linecap="butt"/>
<line x1="355" y1="1385.8000000000002" x2="355" y2="1409.8000000000002" stroke-width="3.6" stroke-linecap="butt"/>
<line x1="355" y1="1422.2000000000003" x2="355" y2="1434" stroke-width="3.6" stroke-linecap="butt"/>
<line x1="355" y1="1421" x2="355" y2="1448" stroke-width="3.6" stroke-linecap="butt"/>
<path d="M322,1466.7 V1434.5 H381.2 V1466.7" stroke-width="4.4" fill="none" stroke-linejoin="miter" stroke-linecap="butt"/>
<line x1="337.6" y1="1448.6" x2="373.9" y2="1448.6" stroke-width="3" stroke-linecap="butt"/>
<line x1="337.6" y1="1448" x2="329.2" y2="1463.5" stroke-width="4" stroke-linecap="butt"/>
<line x1="355.8" y1="1448" x2="346" y2="1463.5" stroke-width="4" stroke-linecap="butt"/>
<line x1="373.9" y1="1448" x2="363.5" y2="1463.5" stroke-width="4" stroke-linecap="butt"/>
<rect x="814.2" y="1158.2" width="120.5" height="103.09999999999991" stroke-width="3.7" fill="none"/>
<path d="M833.7,1139.5 V1224.5 H855" stroke-width="3.8" fill="none" stroke-linejoin="miter" stroke-linecap="butt"/>
<path d="M910.2,1139.5 V1224.5 H890" stroke-width="3.8" fill="none" stroke-linejoin="miter" stroke-linecap="butt"/>
<circle cx="872.8" cy="1225.3" r="17" stroke-width="3.6" fill="#fff"/>
<rect x="1087.1" y="1207" width="84.90000000000009" height="54" stroke-width="3.6" fill="none"/>
<rect x="1102.3999999999999" y="1224.1" width="32.700000000000045" height="16.200000000000045" stroke-width="3.6" fill="none"/>
<path d="M1118.7,1139.5 V1325.5 H1206.6 V1139.5" stroke-width="3.8" fill="none" stroke-linejoin="miter" stroke-linecap="butt"/>
<line x1="1135.8999999999999" y1="1232.8" x2="1145.1" y2="1232.8" stroke-width="3.6" stroke-linecap="butt"/>
<line x1="1161.5" y1="1232.8" x2="1172.8" y2="1232.8" stroke-width="3.6" stroke-linecap="butt"/>
<rect x="1255.3999999999999" y="1207" width="84.90000000000009" height="54" stroke-width="3.6" fill="none"/>
<rect x="1270.7" y="1224.1" width="32.700000000000045" height="16.200000000000045" stroke-width="3.6" fill="none"/>
<path d="M1287.4,1139.5 V1325.5 H1375.4 V1139.5" stroke-width="3.8" fill="none" stroke-linejoin="miter" stroke-linecap="butt"/>
<line x1="1304.2" y1="1232.8" x2="1313.4" y2="1232.8" stroke-width="3.6" stroke-linecap="butt"/>
<line x1="1329.8" y1="1232.8" x2="1341.1" y2="1232.8" stroke-width="3.6" stroke-linecap="butt"/>
<rect x="1421.1" y="1207" width="84.90000000000009" height="54" stroke-width="3.6" fill="none"/>
<rect x="1436.1" y="1224.1" width="32.700000000000045" height="16.200000000000045" stroke-width="3.6" fill="none"/>
<path d="M1453.1,1139.5 V1325.5 H1541.3 V1139.5" stroke-width="3.8" fill="none" stroke-linejoin="miter" stroke-linecap="butt"/>
<line x1="1469.6" y1="1232.8" x2="1478.8" y2="1232.8" stroke-width="3.6" stroke-linecap="butt"/>
<line x1="1495.5" y1="1232.8" x2="1506.8" y2="1232.8" stroke-width="3.6" stroke-linecap="butt"/>
<rect x="1586.8" y="1207" width="84.90000000000009" height="54" stroke-width="3.6" fill="none"/>
<rect x="1602.1" y="1224.1" width="32.700000000000045" height="16.200000000000045" stroke-width="3.6" fill="none"/>
<path d="M1619,1139.5 V1325.5 H1707.3 V1139.5" stroke-width="3.8" fill="none" stroke-linejoin="miter" stroke-linecap="butt"/>
<line x1="1635.6" y1="1232.8" x2="1644.8" y2="1232.8" stroke-width="3.6" stroke-linecap="butt"/>
<line x1="1661.2" y1="1232.8" x2="1672.5" y2="1232.8" stroke-width="3.6" stroke-linecap="butt"/>
<path d="M1103,1116.5 L1108.5,1111.8 H1409 L1415,1104.6 L1421,1111.8 H1721 L1726.5,1116.5" stroke-width="3.8" fill="none" stroke-linejoin="miter" stroke-linecap="butt"/>
<g stroke="#000" stroke-width="0.45" fill="#000" letter-spacing="0.15">
<text x="82" y="103.0" text-anchor="start" font-size="18">B+</text>
<text x="349.5" y="103.0" text-anchor="start" font-size="18">RUN/START</text>
<text x="1434" y="103.0" text-anchor="start" font-size="18">B+</text>
<text x="239" y="163.0" text-anchor="middle" font-size="18">Power Distribution</text>
<text x="239" y="181.1" text-anchor="middle" font-size="18">Schematics</text>
<text x="109.3" y="208.0" text-anchor="start" font-size="18">STOP</text>
<text x="109.3" y="226.1" text-anchor="start" font-size="18">Fuse</text>
<text x="109.3" y="244.2" text-anchor="start" font-size="18">15 A</text>
<text x="421.5" y="208.0" text-anchor="start" font-size="18">ECU–IG</text>
<text x="421.5" y="226.1" text-anchor="start" font-size="18">Fuse</text>
<text x="421.5" y="244.2" text-anchor="start" font-size="18">10 A</text>
<text x="781" y="140.0" text-anchor="start" font-size="18">Fuse</text>
<text x="781" y="158.1" text-anchor="start" font-size="18">Block –</text>
<text x="781" y="176.2" text-anchor="start" font-size="18">Instrument</text>
<text x="781" y="194.3" text-anchor="start" font-size="18">Panel</text>
<text x="633.7" y="211.0" text-anchor="middle" font-size="18">CONN ID</text>
<text x="525" y="236.6" text-anchor="start" font-size="18">C1=1 GY</text>
<text x="525" y="254.6" text-anchor="start" font-size="18">C2=1 WH</text>
<text x="525" y="272.7" text-anchor="start" font-size="18">C3=6 WH</text>
<text x="525" y="290.7" text-anchor="start" font-size="18">C4=16 WH</text>
<text x="525" y="308.7" text-anchor="start" font-size="18">C5=20 WH</text>
<text x="525" y="326.8" text-anchor="start" font-size="18">C6=13 WH</text>
<text x="640" y="236.6" text-anchor="start" font-size="18">C7=7 WH</text>
<text x="640" y="254.6" text-anchor="start" font-size="18">C8=13 WH</text>
<text x="640" y="272.7" text-anchor="start" font-size="18">C9=10 WH</text>
<text x="640" y="290.7" text-anchor="start" font-size="18">C10=8 WH</text>
<text x="640" y="308.7" text-anchor="start" font-size="18">C11=10 WH</text>
<text x="640" y="326.8" text-anchor="start" font-size="18">C12=11 WH</text>
<text x="640" y="344.8" text-anchor="start" font-size="18">C13=6 WH</text>
<text x="48" y="401.0" text-anchor="start" font-size="18">C4</text>
<text x="105" y="412.7" text-anchor="start" font-size="18">14</text>
<text x="421" y="401.0" text-anchor="start" font-size="18">13</text>
<text x="98" y="459.4" text-anchor="start" font-size="18">RD/WH</text>
<text x="98" y="477.9" text-anchor="start" font-size="18">0.5</text>
<text x="410" y="459.4" text-anchor="start" font-size="18">BK/WH</text>
<text x="410" y="477.9" text-anchor="start" font-size="18">0.5</text>
<text x="983" y="459.4" text-anchor="start" font-size="18">BK/WH</text>
<text x="983" y="477.9" text-anchor="start" font-size="18">0.5</text>
<text x="1014.3" y="176.4" text-anchor="start" font-size="18">Fan</text>
<text x="1014.3" y="194.2" text-anchor="start" font-size="18">No. 1</text>
<text x="1014.3" y="212.0" text-anchor="start" font-size="18">Relay</text>
<text x="1147.8" y="176.4" text-anchor="start" font-size="18">Fan</text>
<text x="1147.8" y="194.2" text-anchor="start" font-size="18">No. 2</text>
<text x="1147.8" y="212.0" text-anchor="start" font-size="18">Relay</text>
<text x="993" y="280.5" text-anchor="start" font-size="18">1</text>
<text x="1126" y="280.5" text-anchor="start" font-size="18">1</text>
<text x="1364" y="162.0" text-anchor="end" font-size="18">Power Distribution</text>
<text x="1364" y="180.1" text-anchor="end" font-size="18">Schematics</text>
<text x="1729" y="164.8" text-anchor="start" font-size="18">Power Distribution</text>
<text x="1729" y="182.4" text-anchor="start" font-size="18">Schematics</text>
<text x="1904.5" y="139.0" text-anchor="start" font-size="18">Fuse</text>
<text x="1904.5" y="157.2" text-anchor="start" font-size="18">Block –</text>
<text x="1904.5" y="175.4" text-anchor="start" font-size="18">Underhood</text>
<text x="1464" y="237.0" text-anchor="start" font-size="18">ABS No. 2</text>
<text x="1464" y="255.1" text-anchor="start" font-size="18">Fuse</text>
<text x="1464" y="273.2" text-anchor="start" font-size="18">40 A</text>
<text x="1666" y="237.0" text-anchor="start" font-size="18">ABS No. 1</text>
<text x="1666" y="255.1" text-anchor="start" font-size="18">Fuse</text>
<text x="1666" y="273.2" text-anchor="start" font-size="18">30 A</text>
<text x="1453" y="521.0" text-anchor="start" font-size="18">BU</text>
<text x="1453" y="539.1" text-anchor="start" font-size="18">3</text>
<text x="1158" y="739.0" text-anchor="start" font-size="18">BK/WH</text>
<text x="1158" y="757.1" text-anchor="start" font-size="18">0.5</text>
<text x="1656" y="739.0" text-anchor="start" font-size="18">RD</text>
<text x="1656" y="757.1" text-anchor="start" font-size="18">2</text>
<text x="107" y="568.6" text-anchor="start" font-size="18">2</text>
<text x="131" y="600.5" text-anchor="start" font-size="18">Stop</text>
<text x="131" y="618.7" text-anchor="start" font-size="18">Lamp</text>
<text x="131" y="636.9" text-anchor="start" font-size="18">Switch</text>
<text x="131" y="655.1" text-anchor="start" font-size="18">(Closed with</text>
<text x="131" y="673.3" text-anchor="start" font-size="18">pedal</text>
<text x="131" y="691.5" text-anchor="start" font-size="18">depressed)</text>
<text x="107" y="701.6" text-anchor="start" font-size="18">1</text>
<text x="266" y="739.3" text-anchor="start" font-size="18">Lighting</text>
<text x="266" y="757.2" text-anchor="start" font-size="18">Systems</text>
<text x="98" y="785.6" text-anchor="start" font-size="18">GN/WH</text>
<text x="98" y="804.1" text-anchor="start" font-size="18">0.5</text>
<text x="108" y="911.0" text-anchor="start" font-size="18">14</text>
<text x="1172" y="910.0" text-anchor="start" font-size="18">46</text>
<text x="1465.7" y="910.0" text-anchor="start" font-size="18">31</text>
<text x="1667" y="910.0" text-anchor="start" font-size="18">2</text>
<text x="1148" y="953.3" text-anchor="middle" font-size="18">Ignition</text>
<text x="1148" y="971.4" text-anchor="middle" font-size="18">Positive</text>
<text x="1148" y="989.5" text-anchor="middle" font-size="18">Voltage</text>
<text x="1443" y="953.3" text-anchor="middle" font-size="18">Battery</text>
<text x="1443" y="971.4" text-anchor="middle" font-size="18">Positive</text>
<text x="1443" y="989.5" text-anchor="middle" font-size="18">Voltage</text>
<text x="1645" y="953.3" text-anchor="middle" font-size="18">Battery</text>
<text x="1645" y="971.4" text-anchor="middle" font-size="18">Positive</text>
<text x="1645" y="989.5" text-anchor="middle" font-size="18">Voltage</text>
<text x="1834" y="941.0" text-anchor="start" font-size="18">Brake</text>
<text x="1834" y="959.1" text-anchor="start" font-size="18">Pressure</text>
<text x="1834" y="977.2" text-anchor="start" font-size="18">Modulator</text>
<text x="1834" y="995.3" text-anchor="start" font-size="18">Valve</text>
<text x="1834" y="1013.4" text-anchor="start" font-size="18">(BPMV)</text>
<text x="137.8" y="961.8" text-anchor="start" font-size="18">Brake Switch</text>
<text x="137.8" y="979.6" text-anchor="start" font-size="18">Input</text>
<text x="227" y="1112.0" text-anchor="start" font-size="18">Motor</text>
<text x="227" y="1130.6" text-anchor="start" font-size="18">Ground</text>
<text x="424" y="1112.0" text-anchor="start" font-size="18">Solenoid</text>
<text x="424" y="1130.6" text-anchor="start" font-size="18">Ground</text>
<text x="278" y="1171.7" text-anchor="start" font-size="18">1</text>
<text x="479.2" y="1171.7" text-anchor="start" font-size="18">32</text>
<text x="263.8" y="1215.5" text-anchor="start" font-size="18">WH/BK</text>
<text x="263.8" y="1234.1" text-anchor="start" font-size="18">2</text>
<text x="467.4" y="1215.5" text-anchor="start" font-size="18">WH/BK</text>
<text x="467.4" y="1234.1" text-anchor="start" font-size="18">3</text>
<text x="333.8" y="1275.5" text-anchor="start" font-size="18">S101</text>
<text x="365.5" y="1383.7" text-anchor="start" font-size="18">WH/BK</text>
<text x="365.5" y="1401.9" text-anchor="start" font-size="18">5</text>
<text x="390" y="1464.0" text-anchor="start" font-size="18">G102</text>
<text x="814.4" y="1093.5" text-anchor="start" font-size="18">Pump</text>
<text x="814.4" y="1111.6" text-anchor="start" font-size="18">Motor</text>
<text x="814.4" y="1129.7" text-anchor="start" font-size="18">High</text>
<text x="889.6" y="1093.5" text-anchor="start" font-size="18">Pump</text>
<text x="889.6" y="1111.6" text-anchor="start" font-size="18">Motor</text>
<text x="889.6" y="1129.7" text-anchor="start" font-size="18">Low</text>
<text x="872.5" y="1231.0" text-anchor="middle" font-size="16">M</text>
<text x="813" y="1283.0" text-anchor="start" font-size="18">ABS Pump Motor</text>
<text x="1287.4" y="1096.8" text-anchor="start" font-size="18">Solenoid Valve Control Signals</text>
<text x="1085.2" y="1346.5" text-anchor="start" font-size="18">LH Front</text>
<text x="1085.2" y="1364.6" text-anchor="start" font-size="18">Solenoid</text>
<text x="1085.2" y="1382.7" text-anchor="start" font-size="18">Valve</text>
<text x="1254" y="1346.5" text-anchor="start" font-size="18">LH Rear</text>
<text x="1254" y="1364.6" text-anchor="start" font-size="18">Solenoid</text>
<text x="1254" y="1382.7" text-anchor="start" font-size="18">Valve</text>
<text x="1419.7" y="1346.5" text-anchor="start" font-size="18">RH Front</text>
<text x="1419.7" y="1364.6" text-anchor="start" font-size="18">Solenoid</text>
<text x="1419.7" y="1382.7" text-anchor="start" font-size="18">Valve</text>
<text x="1585.7" y="1346.5" text-anchor="start" font-size="18">RH Rear</text>
<text x="1585.7" y="1364.6" text-anchor="start" font-size="18">Solenoid</text>
<text x="1585.7" y="1382.7" text-anchor="start" font-size="18">Valve</text>
<text x="2026" y="104.7" text-anchor="start" font-size="18" stroke-width="0">L</text>
<text x="2038.5" y="120.7" text-anchor="start" font-size="18" stroke-width="0">O</text>
<text x="2054.5" y="134.8" text-anchor="start" font-size="18" stroke-width="0">C</text>
<text x="2018" y="186.6" text-anchor="start" font-size="18" stroke-width="0">D</text>
<text x="2031" y="197.9" text-anchor="start" font-size="18" font-weight="bold">E</text>
<text x="2044.5" y="211.7" text-anchor="start" font-size="18" stroke-width="0">S</text>
<text x="2057" y="224.4" text-anchor="start" font-size="18" stroke-width="0">C</text>
</g>
</svg>
</body></html>
